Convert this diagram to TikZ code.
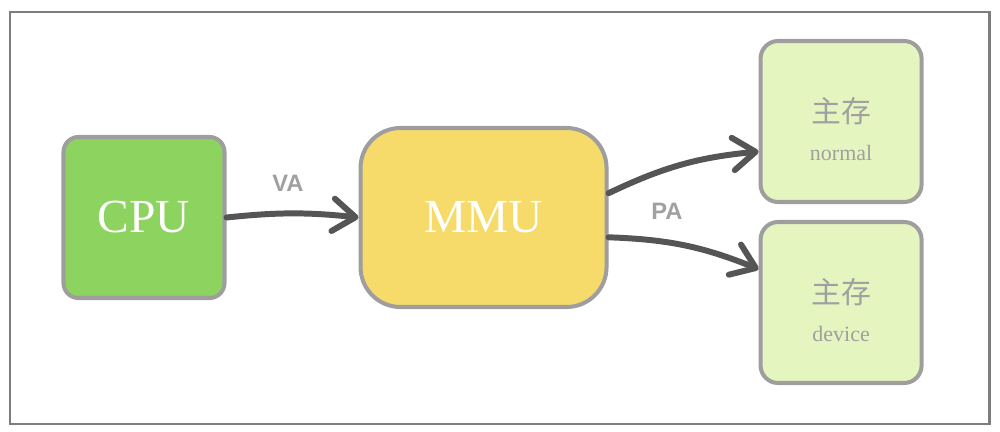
\documentclass[tikz,border=0pt]{standalone}
\usepackage{fontspec}
\usepackage{tikz}
\usetikzlibrary{positioning,arrows.meta}
\newfontfamily\cjk{Noto Sans CJK SC}
\newfontfamily\labelfont{Liberation Sans}
\newfontfamily\boxfont{Liberation Serif}
\definecolor{CpuGreen}{RGB}{141,211,95}
\definecolor{MmuYellow}{RGB}{246,219,106}
\definecolor{MemGreen}{RGB}{229,245,192}
\definecolor{EdgeGray}{RGB}{158,158,158}
\definecolor{ArrowGray}{RGB}{85,85,85}
\definecolor{TagGray}{RGB}{160,160,160}
\definecolor{FrameGray}{RGB}{125,125,125}

\begin{document}
\begin{tikzpicture}[every node/.style={align=center},
    unit/.style={draw=EdgeGray, line width=2.3pt, rounded corners=0.3cm,
                 minimum width=3.22cm, minimum height=3.22cm},
    flow/.style={draw=ArrowGray, line width=3.4pt, line cap=round,
                 -{Straight Barb[length=0.45cm,width=0.65cm,line cap=round,line join=round]}},
    tag/.style={text=TagGray, font=\labelfont\bfseries\fontsize{13.5}{16}\selectfont}]
  \useasboundingbox (0,0) rectangle (20,8.62);
  \draw[FrameGray, line width=1.7pt] (0.2,0.14) rectangle (19.78,8.38);
  \node[unit, fill=CpuGreen, text=white, font=\boxfont\fontsize{27}{30}\selectfont] (cpu) at (2.88,4.27) {CPU};
  \node[unit, fill=MmuYellow, text=white, rounded corners=0.8cm, minimum width=4.92cm,
        minimum height=3.58cm, font=\boxfont\fontsize{27}{30}\selectfont, right=2.64cm of cpu] (mmu) {MMU};
  \node[unit, fill=MemGreen, rounded corners=0.35cm, text=TagGray, right=3.0cm of mmu,
        yshift=1.92cm] (normal) {\rule{0pt}{23pt}{\cjk\fontsize{17}{20}\selectfont 主存}\\[10pt]{\boxfont\fontsize{12.5}{14}\selectfont normal}};
  \node[unit, fill=MemGreen, rounded corners=0.35cm, text=TagGray, right=3.0cm of mmu,
        yshift=-1.7cm] (device) {\rule{0pt}{23pt}{\cjk\fontsize{17}{20}\selectfont 主存}\\[10pt]{\boxfont\fontsize{12.5}{14}\selectfont device}};
  \draw[flow] (cpu.east) to[bend left=6] (mmu.west);
  \draw[flow] (mmu.11) to[bend left=10] (normal.200);
  \draw[flow] (mmu.-9) to[bend left=10] (device.158);
  \node[tag] (va) at (5.76,4.96) {VA};
  \node[tag] (pa) at (13.34,4.4) {PA};
\end{tikzpicture}
\end{document}
